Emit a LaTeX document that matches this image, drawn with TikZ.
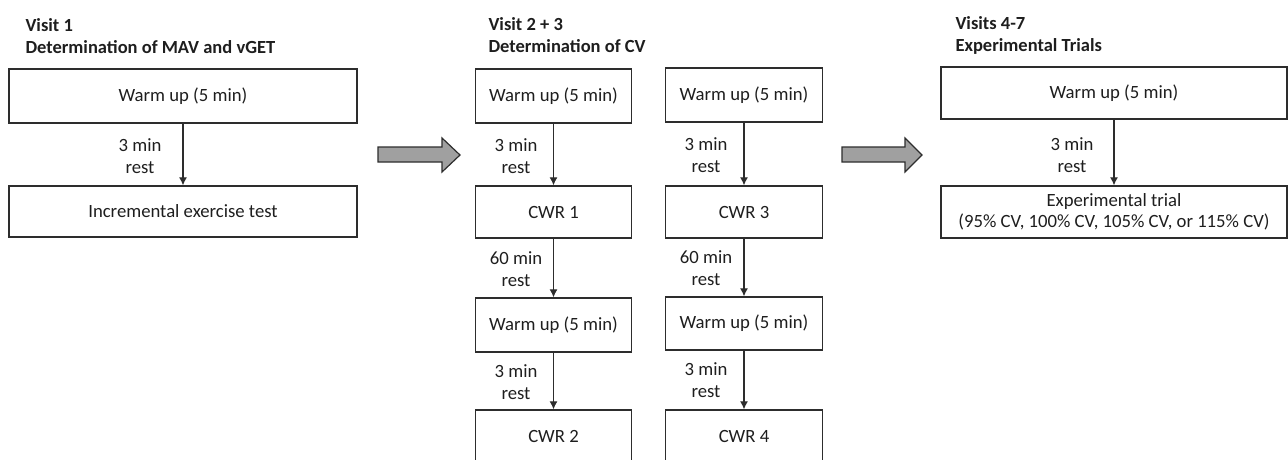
\documentclass[tikz,border=0pt]{standalone}
\usepackage{fontspec}
\setmainfont{Carlito}
\usepackage{xcolor}
\definecolor{LineGray}{RGB}{45,45,45}
\definecolor{ArrowGray}{RGB}{160,160,160}
\definecolor{TextDark}{RGB}{30,30,30}
\usetikzlibrary{arrows.meta}

\begin{document}
\begin{tikzpicture}[x=1pt,y=-1pt,
	stagebox/.style={draw=LineGray, line width=1.4pt, inner sep=0pt, align=center, text=TextDark, font=\fontsize{18.7}{21.5}\selectfont},
	restlabel/.style={align=center, text=TextDark, font=\fontsize{18.7}{22}\selectfont},
	titletext/.style={anchor=west, align=left, text=TextDark, font=\fontsize{18.5}{22}\selectfont\bfseries},
	flow/.style={-{Latex[length=8pt,width=8pt]}, line width=1.1pt, LineGray},
	bigarrow/.style={draw=LineGray, line width=1.2pt, fill=ArrowGray}]
	\useasboundingbox (0,0) rectangle (1288,459);
	\clip (0,0) rectangle (1288,459);

	% visit 1
	\node[titletext] (v1title) at (22,36) {Visit 1\\Determination of MAV and vGET};
	\node[stagebox, minimum width=348pt, minimum height=54pt] (v1warm) at (183,96) {Warm up (5 min)};
	\node[stagebox, minimum width=348pt, minimum height=51pt] (v1test) at (183,211.5) {Incremental exercise test};
	\draw[flow] (v1warm.south) -- (v1test.north);
	\node[restlabel] (v1rest) at (140,156) {3 min\\rest};

	\draw[bigarrow] (378,147)--(442,147)--(442,138)--(460,155)--(442,172)--(442,162)--(378,162)--cycle; % to visit 2

	% visit 2 + 3, left column
	\node[titletext] (v2title) at (485,35) {Visit 2 + 3\\Determination of CV};
	\node[stagebox, minimum width=156pt, minimum height=54pt] (v2warmA) at (553.5,96) {Warm up (5 min)};
	\node[stagebox, minimum width=156pt, minimum height=52pt] (v2cwrA) at (553.5,212) {CWR 1};
	\node[stagebox, minimum width=156pt, minimum height=54pt] (v2warmB) at (553.5,325) {Warm up (5 min)};
	\node[stagebox, minimum width=156pt, minimum height=53pt] (v2cwrB) at (553.5,436.5) {CWR 2};
	\draw[flow] (v2warmA.south) -- (v2cwrA.north);
	\draw[flow] (v2cwrA.south) -- (v2warmB.north);
	\draw[flow] (v2warmB.south) -- (v2cwrB.north);
	\node[restlabel] (v2restA) at (516,156) {3 min\\rest};
	\node[restlabel] (v2restB) at (516,269) {60 min\\rest};
	\node[restlabel] (v2restC) at (516,382) {3 min\\rest};

	% visit 2 + 3, right column
	\node[stagebox, minimum width=157pt, minimum height=54pt] (v3warmA) at (744,95) {Warm up (5 min)};
	\node[stagebox, minimum width=157pt, minimum height=52pt] (v3cwrA) at (744,212) {CWR 3};
	\node[stagebox, minimum width=157pt, minimum height=53pt] (v3warmB) at (744,323.5) {Warm up (5 min)};
	\node[stagebox, minimum width=157pt, minimum height=53pt] (v3cwrB) at (744,436.5) {CWR 4};
	\draw[flow] (v3warmA.south) -- (v3cwrA.north);
	\draw[flow] (v3cwrA.south) -- (v3warmB.north);
	\draw[flow] (v3warmB.south) -- (v3cwrB.north);
	\node[restlabel] (v3restA) at (706,155) {3 min\\rest};
	\node[restlabel] (v3restB) at (706,268) {60 min\\rest};
	\node[restlabel] (v3restC) at (706,380) {3 min\\rest};

	\draw[bigarrow] (842,147)--(905,147)--(905,138)--(922,155)--(905,172)--(905,162)--(842,162)--cycle; % to visits 4-7

	% visits 4-7
	\node[titletext] (v4title) at (952,35) {Visits 4-7\\Experimental Trials};
	\node[stagebox, minimum width=346pt, minimum height=52pt] (v4warm) at (1114,93) {Warm up (5 min)};
	\node[stagebox, minimum width=346pt, minimum height=52pt] (v4trial) at (1114,212) {Experimental trial\\(95\% CV, 100\% CV, 105\% CV, or 115\% CV)};
	\draw[flow] (v4warm.south) -- (v4trial.north);
	\node[restlabel] (v4rest) at (1072,155) {3 min\\rest};
\end{tikzpicture}
\end{document}
